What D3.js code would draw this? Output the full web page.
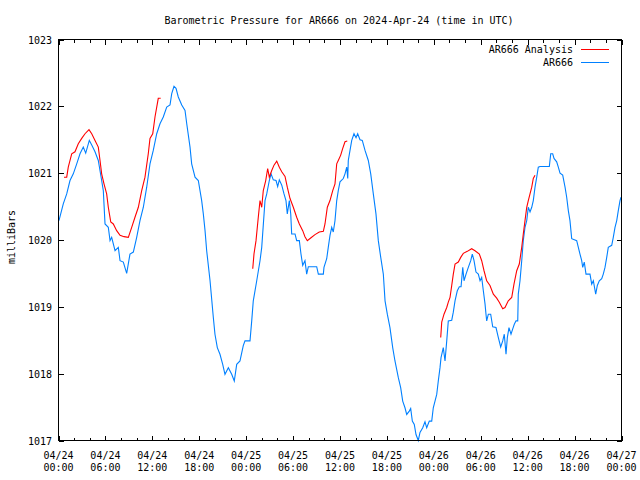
<!DOCTYPE html>
<html>
<head>
<meta charset="utf-8">
<script src="https://cdn.jsdelivr.net/npm/d3@7/dist/d3.min.js"></script>
<style>
  html, body { margin: 0; padding: 0; background: #fff; }
  svg { display: block; }
  text { font-family: "DejaVu Sans Mono", "Liberation Mono", monospace; font-size: 10px; fill: #000; }
</style>
</head>
<body>
<svg id="chart" width="640" height="480"></svg>
<script>
// ---- Data (hours after 2024-04-24 00:00 UTC, pressure in millibars) ----
const titleText = "Barometric Pressure for AR666 on 2024-Apr-24 (time in UTC)";
const yAxisLabel = "milliBars";
const seriesNames = ["AR666 Analysis", "AR666"];
const yTickValues = [1017, 1018, 1019, 1020, 1021, 1022, 1023];
const xMajorTickHours = [0, 6, 12, 18, 24, 30, 36, 42, 48, 54, 60, 66, 72];
const xTickDates = ["04/24","04/24","04/24","04/24","04/25","04/25","04/25","04/25","04/26","04/26","04/26","04/26","04/27"];
const xTickTimes = ["00:00","06:00","12:00","18:00","00:00","06:00","12:00","18:00","00:00","06:00","12:00","18:00","00:00"];

const stationHours = [0.06,0.61,1.05,1.47,1.89,2.33,2.75,3.17,3.48,3.94,4.25,4.67,5.09,5.52,5.73,5.95,6.37,6.59,6.80,7.23,7.65,7.87,8.29,8.72,9.14,9.57,10.00,10.42,10.85,11.28,11.70,12.12,12.56,12.98,13.40,13.84,14.26,14.48,14.77,15.03,15.32,15.76,16.18,16.40,16.82,17.03,17.46,17.88,18.31,18.52,18.74,18.95,19.38,19.80,20.01,20.31,20.65,21.00,21.29,21.72,22.15,22.48,22.79,23.21,23.63,23.85,24.49,24.71,24.91,25.35,25.77,25.99,26.41,26.63,26.96,27.18,27.47,27.82,28.03,28.24,28.55,28.84,29.09,29.26,29.52,29.70,29.82,30.25,30.46,30.80,31.01,31.23,31.52,31.74,31.95,33.02,33.23,33.87,33.95,34.30,34.50,34.72,34.94,35.14,35.36,35.58,35.78,36.00,36.42,36.64,36.86,36.99,37.06,37.28,37.50,37.79,38.05,38.26,38.56,38.85,39.20,39.62,39.93,40.26,40.60,40.90,41.21,41.54,41.76,42.05,42.39,42.74,43.03,43.46,43.76,44.02,44.31,44.53,44.86,45.04,45.25,45.50,45.72,46.01,46.23,46.58,46.87,47.09,47.42,47.73,47.93,48.15,48.37,48.57,48.79,48.92,49.21,49.43,49.65,49.85,50.29,50.49,50.71,51.00,51.26,51.48,51.70,51.86,52.12,52.41,52.72,52.92,53.14,53.39,53.69,53.91,54.12,54.33,54.55,54.67,54.76,54.97,55.27,55.53,55.95,56.25,56.55,56.81,57.01,57.23,57.40,57.61,57.87,58.09,58.29,58.51,58.73,58.80,59.02,59.24,59.44,59.66,59.88,60.08,60.30,60.52,60.72,60.94,61.16,61.36,61.58,62.77,62.95,63.20,63.37,63.71,63.92,64.14,64.48,64.78,64.99,65.20,65.41,65.63,66.05,66.27,66.48,66.69,66.91,67.04,67.24,67.46,67.97,68.19,68.40,68.70,68.91,69.16,69.47,69.67,69.89,70.11,70.31,70.75,70.95,71.17,71.39,71.59,71.81,71.94];
const stationPressure = [1020.29,1020.54,1020.69,1020.89,1020.99,1021.14,1021.29,1021.39,1021.30,1021.49,1021.42,1021.32,1021.19,1020.89,1020.74,1020.24,1020.19,1019.99,1020.04,1019.84,1019.89,1019.69,1019.67,1019.50,1019.79,1019.82,1020.04,1020.29,1020.49,1020.79,1021.14,1021.34,1021.59,1021.74,1021.84,1021.99,1022.02,1022.19,1022.30,1022.27,1022.14,1022.02,1021.94,1021.74,1021.39,1021.14,1020.94,1020.89,1020.59,1020.39,1020.14,1019.84,1019.39,1018.84,1018.59,1018.39,1018.29,1018.14,1017.99,1018.09,1017.99,1017.89,1018.14,1018.19,1018.42,1018.49,1018.49,1018.79,1019.09,1019.39,1019.69,1019.89,1020.59,1020.69,1020.89,1020.99,1020.90,1020.89,1020.80,1020.90,1020.82,1020.69,1020.59,1020.39,1020.59,1020.39,1020.09,1020.09,1019.99,1019.99,1019.79,1019.62,1019.69,1019.49,1019.60,1019.60,1019.49,1019.49,1019.59,1019.72,1019.89,1020.07,1020.19,1020.12,1020.29,1020.59,1020.74,1020.87,1020.92,1020.99,1021.09,1020.92,1021.19,1021.34,1021.49,1021.59,1021.53,1021.59,1021.50,1021.49,1021.34,1021.19,1020.99,1020.69,1020.39,1019.99,1019.74,1019.49,1019.09,1018.89,1018.69,1018.39,1018.19,1017.94,1017.79,1017.59,1017.49,1017.39,1017.44,1017.48,1017.29,1017.24,1017.09,1017.00,1017.12,1017.19,1017.28,1017.19,1017.29,1017.29,1017.49,1017.59,1017.69,1017.89,1018.09,1018.24,1018.39,1018.19,1018.49,1018.79,1018.80,1018.92,1019.09,1019.24,1019.30,1019.30,1019.59,1019.39,1019.49,1019.59,1019.69,1019.79,1019.69,1019.52,1019.49,1019.39,1019.44,1019.24,1019.04,1018.89,1018.79,1018.89,1018.89,1018.70,1018.69,1018.54,1018.40,1018.49,1018.59,1018.29,1018.54,1018.69,1018.59,1018.67,1018.74,1018.79,1018.79,1019.19,1019.39,1019.69,1019.99,1020.19,1020.29,1020.49,1020.42,1020.49,1020.59,1020.79,1020.94,1021.09,1021.10,1021.10,1021.29,1021.29,1021.22,1021.17,1021.09,1021.00,1020.97,1020.79,1020.64,1020.44,1020.29,1020.02,1020.00,1019.99,1019.89,1019.79,1019.69,1019.59,1019.67,1019.49,1019.49,1019.34,1019.39,1019.19,1019.32,1019.39,1019.42,1019.49,1019.59,1019.74,1019.89,1019.92,1020.04,1020.19,1020.29,1020.44,1020.59,1020.64];

const analysis1Hours = [0.70,1.05,1.25,1.69,2.11,2.53,2.97,3.39,3.90,4.25,4.67,5.09,5.31,5.52,5.82,6.16,6.37,6.68,7.01,7.44,7.87,8.38,8.93,9.36,9.78,10.21,10.64,11.06,11.48,11.70,12.05,12.34,12.64,12.76,13.07];
const analysis1Pressure = [1020.94,1020.94,1021.09,1021.29,1021.32,1021.44,1021.52,1021.59,1021.65,1021.59,1021.49,1021.39,1021.19,1020.99,1020.84,1020.69,1020.49,1020.27,1020.24,1020.14,1020.07,1020.05,1020.04,1020.19,1020.34,1020.49,1020.74,1020.94,1021.29,1021.52,1021.59,1021.84,1022.04,1022.12,1022.12];
const analysis2Hours = [24.84,25.00,25.26,25.55,25.77,25.99,26.19,26.50,26.75,26.96,27.27,27.56,27.91,28.24,28.55,28.97,29.26,29.61,30.03,30.46,30.80,31.23,31.52,31.82,32.25,32.80,33.35,33.87,34.08,34.38,34.72,35.07,35.36,35.58,35.78,36.09,36.35,36.64,36.93];
const analysis2Pressure = [1019.57,1019.79,1019.99,1020.34,1020.59,1020.49,1020.74,1020.89,1021.07,1020.94,1021.04,1021.12,1021.18,1021.09,1021.02,1020.95,1020.79,1020.62,1020.49,1020.34,1020.24,1020.14,1020.05,1019.99,1020.03,1020.08,1020.12,1020.13,1020.24,1020.49,1020.59,1020.74,1020.84,1021.14,1021.19,1021.27,1021.37,1021.47,1021.48];
const analysis3Hours = [48.88,49.01,49.30,49.65,49.85,50.07,50.29,50.49,50.71,51.13,51.44,51.77,52.28,52.84,53.27,53.82,54.12,54.42,54.76,55.18,55.61,56.04,56.37,56.81,57.10,57.52,57.96,58.25,58.60,58.93,59.24,59.44,59.66,59.88,60.08,60.30,60.52,60.72,60.94];
const analysis3Pressure = [1018.54,1018.77,1018.89,1018.99,1019.07,1019.14,1019.32,1019.49,1019.64,1019.67,1019.74,1019.80,1019.83,1019.87,1019.84,1019.79,1019.69,1019.54,1019.39,1019.32,1019.19,1019.13,1019.07,1018.97,1018.99,1019.09,1019.14,1019.34,1019.54,1019.64,1019.89,1020.09,1020.29,1020.49,1020.59,1020.69,1020.79,1020.92,1020.97];

// ---- Chart ----
const startMs = Date.UTC(2024, 3, 24, 0, 0, 0);
const toDate = h => new Date(startMs + h * 3600e3);

const L = 58.5, R = 621.5, T = 39.5, B = 440.5;
const x = d3.scaleUtc().domain([toDate(0), toDate(72)]).range([L, R]);
const y = d3.scaleLinear().domain([1017, 1023]).range([B, T]);

const svg = d3.select("#chart");
svg.append("rect").attr("width", 640).attr("height", 480).attr("fill", "#fff");

const majorDates = xMajorTickHours.map(toDate);
const minorDates = d3.range(0, 73, 2).filter(h => h % 6 !== 0).map(toDate);

function styleAxis(g) {
  g.select(".domain").remove();
  g.selectAll("line").attr("stroke", "#000").attr("shape-rendering", "crispEdges");
  g.selectAll("text").remove();
}

// bottom major & minor ticks (pointing inward)
svg.append("g").attr("transform", `translate(0,${B})`)
  .call(d3.axisBottom(x).tickValues(majorDates).tickSizeInner(-5).tickSizeOuter(0).tickFormat(() => ""))
  .call(styleAxis);
svg.append("g").attr("transform", `translate(0,${B})`)
  .call(d3.axisBottom(x).tickValues(minorDates).tickSizeInner(-3).tickSizeOuter(0).tickFormat(() => ""))
  .call(styleAxis);
// top mirrored
svg.append("g").attr("transform", `translate(0,${T})`)
  .call(d3.axisTop(x).tickValues(majorDates).tickSizeInner(-5).tickSizeOuter(0).tickFormat(() => ""))
  .call(styleAxis);
svg.append("g").attr("transform", `translate(0,${T})`)
  .call(d3.axisTop(x).tickValues(minorDates).tickSizeInner(-3).tickSizeOuter(0).tickFormat(() => ""))
  .call(styleAxis);
// left & right y ticks
svg.append("g").attr("transform", `translate(${L},0)`)
  .call(d3.axisLeft(y).tickValues(yTickValues).tickSizeInner(-5).tickSizeOuter(0).tickFormat(() => ""))
  .call(styleAxis);
svg.append("g").attr("transform", `translate(${R},0)`)
  .call(d3.axisRight(y).tickValues(yTickValues).tickSizeInner(-5).tickSizeOuter(0).tickFormat(() => ""))
  .call(styleAxis);

// y tick labels
svg.append("g").selectAll("text").data(yTickValues).join("text")
  .attr("x", 52).attr("y", d => y(d) + 4)
  .attr("text-anchor", "end")
  .text(d => d3.format("d")(d));

// x tick labels (two lines)
const xl = svg.append("g").selectAll("g").data(xMajorTickHours).join("g");
xl.append("text").attr("x", d => x(toDate(d))).attr("y", 458.5).attr("text-anchor", "middle")
  .text((d, i) => xTickDates[i]);
xl.append("text").attr("x", d => x(toDate(d))).attr("y", 471).attr("text-anchor", "middle")
  .text((d, i) => xTickTimes[i]);

// title & axis label
svg.append("text").attr("x", 339).attr("y", 24).attr("text-anchor", "middle").text(titleText);
svg.append("text").attr("transform", "translate(15,237) rotate(-90)").attr("text-anchor", "middle").text(yAxisLabel);

// lines
const line = d3.line().x(d => x(toDate(d[0]))).y(d => y(d[1]));
const zip = (a, b) => a.map((v, i) => [v, b[i]]);
const blue = "#0080ff", red = "#ff0000";

svg.append("path").datum(zip(stationHours, stationPressure))
  .attr("d", line).attr("fill", "none").attr("stroke", blue).attr("stroke-width", 1.1);

[[analysis1Hours, analysis1Pressure], [analysis2Hours, analysis2Pressure], [analysis3Hours, analysis3Pressure]]
  .forEach(([h, p]) => {
    svg.append("path").datum(zip(h, p))
      .attr("d", line).attr("fill", "none").attr("stroke", red).attr("stroke-width", 1.1);
  });

// border
svg.append("rect").attr("x", L).attr("y", T).attr("width", R - L).attr("height", B - T)
  .attr("fill", "none").attr("stroke", "#000").attr("shape-rendering", "crispEdges");

// legend
const legend = [{ name: seriesNames[0], color: red, y: 49.5 }, { name: seriesNames[1], color: blue, y: 62.5 }];
const lg = svg.append("g");
legend.forEach(e => {
  lg.append("text").attr("x", 573).attr("y", e.y + 3.5).attr("text-anchor", "end").text(e.name);
  lg.append("line").attr("x1", 581).attr("x2", 609).attr("y1", e.y).attr("y2", e.y)
    .attr("stroke", e.color).attr("stroke-width", 1).attr("shape-rendering", "crispEdges");
});
</script>
</body>
</html>
